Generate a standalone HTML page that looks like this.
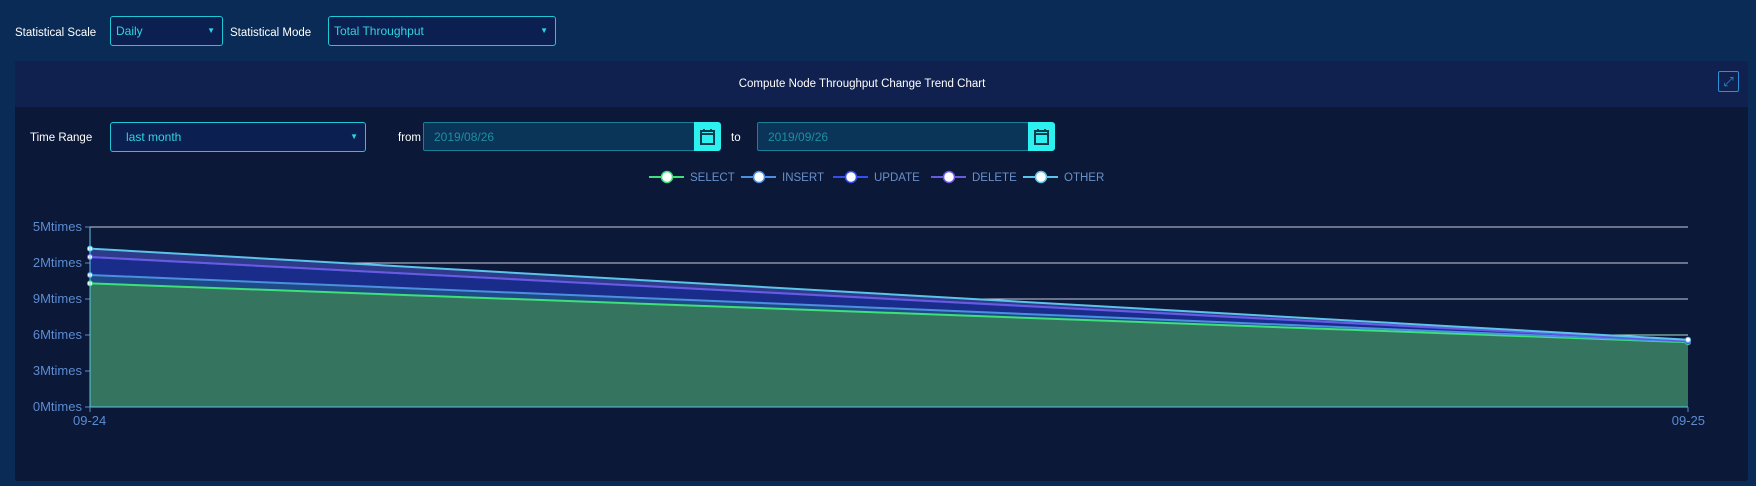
<!DOCTYPE html>
<html><head><meta charset="utf-8"><style>
body{margin:0;width:1756px;height:486px;background:#0a2b56;font-family:"Liberation Sans",sans-serif;position:relative;overflow:hidden}
.abs{position:absolute}
.lbl{color:#fff;font-size:11.5px;white-space:nowrap}
.sel{border:1px solid #1ec8d8;border-radius:3px;background:#0b2050;color:#2fd3e3;font-size:12px;box-sizing:border-box;padding-left:5px;line-height:28px}
.sel:after{content:"▼";position:absolute;right:7px;top:0;font-size:8px;color:#2fd3e3}
.date{border:1px solid #1a7f98;border-radius:2px;background:#0a3458;color:#1e8fa0;font-size:12px;box-sizing:border-box;padding-left:10px;line-height:28px}
.cal{background:#2df0f0;border-radius:0 3px 3px 0}
</style></head><body>
<div class="abs lbl" style="left:15px;top:27px">Statistical Scale</div>
<div class="abs sel" style="left:110px;top:16px;width:113px;height:30px">Daily</div>
<div class="abs lbl" style="left:230px;top:27px">Statistical Mode</div>
<div class="abs sel" style="left:328px;top:16px;width:228px;height:30px">Total Throughput</div>

<div class="abs" style="left:15px;top:61px;width:1733px;height:420px;background:#0b1838;border-radius:3px">
 <div class="abs" style="left:0;top:0;width:1733px;height:46px;background:#10214f"></div>
 <div class="abs" style="left:0;top:17px;width:1694px;text-align:center;color:#fff;font-size:11.5px">Compute Node Throughput Change Trend Chart</div>
 <div class="abs" style="left:1703px;top:10px;width:19px;height:19px;border:1px solid #2b8fd8;border-radius:2px;color:#2b8fd8;font-size:13px;line-height:19px;text-align:center">⤢</div>
</div>

<div class="abs lbl" style="left:30px;top:132px">Time Range</div>
<div class="abs sel" style="left:110px;top:122px;width:256px;height:30px;padding-left:15px">last month</div>
<div class="abs lbl" style="left:398px;top:132px">from</div>
<div class="abs date" style="left:423px;top:122px;width:272px;height:29px">2019/08/26</div>
<div class="abs cal" style="left:694px;top:122px;width:27px;height:29px"><svg width="27" height="29"><rect x="7" y="9" width="13" height="13" fill="none" stroke="#0b3a4a" stroke-width="2"/><line x1="7" y1="12" x2="20" y2="12" stroke="#0b3a4a" stroke-width="2"/><line x1="10" y1="7" x2="10" y2="10" stroke="#0b3a4a" stroke-width="2"/><line x1="17" y1="7" x2="17" y2="10" stroke="#0b3a4a" stroke-width="2"/></svg></div>
<div class="abs lbl" style="left:731px;top:132px">to</div>
<div class="abs date" style="left:757px;top:122px;width:272px;height:29px">2019/09/26</div>
<div class="abs cal" style="left:1028px;top:122px;width:27px;height:29px"><svg width="27" height="29"><rect x="7" y="9" width="13" height="13" fill="none" stroke="#0b3a4a" stroke-width="2"/><line x1="7" y1="12" x2="20" y2="12" stroke="#0b3a4a" stroke-width="2"/><line x1="10" y1="7" x2="10" y2="10" stroke="#0b3a4a" stroke-width="2"/><line x1="17" y1="7" x2="17" y2="10" stroke="#0b3a4a" stroke-width="2"/></svg></div>

<svg id="chart" class="abs" style="left:0;top:0" width="1756" height="486"></svg>
<script>
const categories=["09-24","09-25"];
const seriesNames=["SELECT","INSERT","UPDATE","DELETE","OTHER"];
const selectVals=[10.3,5.4];
const insertVals=[0.7,0.05];
const updateVals=[1.5,0.05];
const deleteVals=[0.0,0.03];
const otherVals=[0.7,0.07];
const yTicks=[0,3,6,9,12,15];
const yTickLabels=["0Mtimes","3Mtimes","6Mtimes","9Mtimes","2Mtimes","5Mtimes"];
const lineColors=["#3de07a","#4a8fe0","#3350ee","#6a5ae0","#5cc3ea"];
const fillColors=["#357560","#1e4a86","#1a2c8a","#2a3590","#2e3a8a"];
const X0=90,X1=1688,Y0=407,Y1=227,YMAX=15;
const sx=i=>X0+(X1-X0)*i/(categories.length-1);
const sy=v=>Y0-(Y0-Y1)*v/YMAX;
const svg=document.getElementById('chart');const NS='http://www.w3.org/2000/svg';
function mk(t,a){const e=document.createElementNS(NS,t);for(const k in a)e.setAttribute(k,a[k]);svg.appendChild(e);return e;}
yTicks.forEach((t,i)=>{
 const g=mk('line',{x1:X0,x2:X1,y1:sy(t),y2:sy(t),stroke:t<=6?'#a8e0c8':'#c8cde0','stroke-width':1});
 
 
 mk('line',{x1:X0-5,x2:X0,y1:sy(t),y2:sy(t),stroke:'#5b8bd0'});
 const tx=mk('text',{x:X0-8,y:sy(t)+4,'text-anchor':'end',fill:'#5b8bd0','font-size':13,'font-family':'Liberation Sans, sans-serif'});
 tx.textContent=yTickLabels[i];
 
 
});
const all=[selectVals,insertVals,updateVals,deleteVals,otherVals];
let base=categories.map(()=>0);
const tops=[];
all.forEach((vals,s)=>{
 const top=vals.map((v,i)=>base[i]+v);
 let d='M'+categories.map((c,i)=>sx(i)+','+sy(top[i])).join(' L');
 for(let i=categories.length-1;i>=0;i--)d+=' L'+sx(i)+','+sy(base[i]);
 const a=mk('path',{d:d+'Z',fill:fillColors[s]});
 
 
 tops.push(top);base=top;
});
tops.forEach((top,s)=>{
 const l=mk('polyline',{points:categories.map((c,i)=>sx(i)+','+sy(top[i])).join(' '),fill:'none',stroke:lineColors[s],'stroke-width':2});
 
 
 top.forEach((v,i)=>{const p=mk('circle',{cx:sx(i),cy:sy(v),r:2.5,fill:'#fff',stroke:lineColors[s],'stroke-width':1});
 
 });
});
mk('line',{x1:X0,x2:X0,y1:Y1,y2:Y0,stroke:'#5bc8e0'});
mk('line',{x1:X0,x2:X1,y1:Y0,y2:Y0,stroke:'#5bc8e0'});
categories.forEach((c,i)=>{
 mk('line',{x1:sx(i),x2:sx(i),y1:Y0,y2:Y0+5,stroke:'#5b8bd0'});
 const t=mk('text',{x:sx(i),y:Y0+18,'text-anchor':i==0?'start':'end',fill:'#5b8bd0','font-size':13,'font-family':'Liberation Sans, sans-serif'});
 if(i==0)t.setAttribute('x',sx(i)-17);else t.setAttribute('x',sx(i)+17);
 t.textContent=c;
 
 
});
const legX=[649,741,833,931,1023];
seriesNames.forEach((n,s)=>{
 const x=legX[s],y=177;
 mk('line',{x1:x,x2:x+35,y1:y,y2:y,stroke:lineColors[s],'stroke-width':2});
 const c=mk('circle',{cx:x+18,cy:y,r:5.5,fill:'#fff',stroke:lineColors[s],'stroke-width':1.5});
 
 
 const t=mk('text',{x:x+41,y:y+4,fill:'#6a90c8','font-size':11.5,'font-family':'Liberation Sans, sans-serif'});
 t.textContent=n;
 
 
});
</script>
</body></html>
